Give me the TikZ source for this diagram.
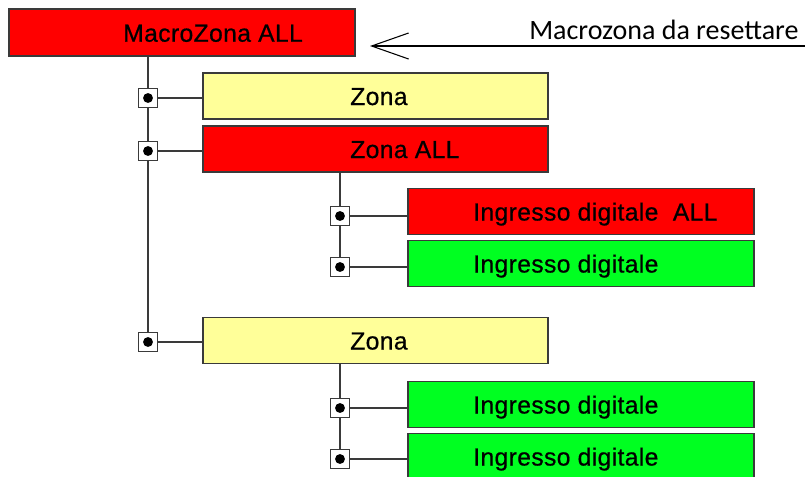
\documentclass[tikz,border=0pt]{standalone}
\usepackage{fontspec}
\setmainfont{Liberation Sans}[FakeBold=0.5]
\newfontfamily\boxfont{Liberation Sans}[FakeBold=0.6,LetterSpace=1.5]
\newfontfamily\calfont{Carlito}
\usetikzlibrary{arrows.meta}
\definecolor{boxred}{HTML}{FF0000}
\definecolor{boxyel}{HTML}{FFFF99}
\definecolor{boxgrn}{HTML}{00FF21}
\definecolor{edge}{HTML}{3A3A3A}
\tikzset{
  box/.style={draw=edge, line width=1.1pt, inner sep=0pt, minimum height=34.5pt},
  bigbox/.style={box, minimum width=259.5pt},
  zbox/.style={box, minimum width=258.75pt},
  ibox/.style={box, minimum width=259.5pt},
  lbl/.style={anchor=base west, inner sep=0pt, font=\boxfont\fontsize{18.5}{20}\selectfont},
  junc/.style={draw=edge, fill=white, line width=0.9pt, minimum size=14pt, inner sep=0pt,
    path picture={\fill[black] (path picture bounding box.center) circle (3.7pt);}},
  wire/.style={draw=edge, line width=1.1pt},
}
\begin{document}
\begin{tikzpicture}[x=0.75pt,y=-0.75pt]
\clip (0,0) rectangle (805,476);
\fill[white] (0,0) rectangle (805,476);

% boxes
\node[bigbox, fill=boxred, minimum height=35.25pt] (mz) at (182,32.5) {};
\node[zbox, fill=boxyel] (z1) at (375.5,96) {};
\node[zbox, fill=boxred] (z2) at (375.5,149) {};
\node[ibox, fill=boxred] (i1) at (581,211.5) {};
\node[ibox, fill=boxgrn] (i2) at (581,263.5) {};
\node[zbox, fill=boxyel] (z3) at (375.5,340.5) {};
\node[ibox, fill=boxgrn] (i3) at (581,404.5) {};
\node[ibox, fill=boxgrn] (i4) at (581,456.5) {};

% texts
\node[lbl] (tmz) at (123,41.7) {MacroZona ALL};
\node[lbl] (tz1) at (350,105) {Zona};
\node[lbl] (tz2) at (350,158) {Zona ALL};
\node[lbl] (ti1) at (473,220.5) {Ingresso digitale\ \ ALL};
\node[lbl] (ti2) at (473,272.5) {Ingresso digitale};
\node[lbl] (tz3) at (350,349.5) {Zona};
\node[lbl] (ti3) at (473,413.5) {Ingresso digitale};
\node[lbl] (ti4) at (473,465.5) {Ingresso digitale};

% junction positions
\coordinate (pj1) at (148,98);
\coordinate (pj2) at (148,151);
\coordinate (pj3) at (148,342);
\coordinate (pk1) at (340,216);
\coordinate (pk2) at (340,267);
\coordinate (pk3) at (340,408);
\coordinate (pk4) at (340,459);

% wires
\path[wire] (pj1 |- mz.south) -- (pj3);
\path[wire] (pk1 |- z2.south) -- (pk2);
\path[wire] (pk3 |- z3.south) -- (pk4);
\path[wire] (pj1) -- (pj1 -| z1.west);
\path[wire] (pj2) -- (pj2 -| z2.west);
\path[wire] (pj3) -- (pj3 -| z3.west);
\path[wire] (pk1) -- (pk1 -| i1.west);
\path[wire] (pk2) -- (pk2 -| i2.west);
\path[wire] (pk3) -- (pk3 -| i3.west);
\path[wire] (pk4) -- (pk4 -| i4.west);

% junction boxes
\node[junc] (j1) at (pj1) {};
\node[junc] (j2) at (pj2) {};
\node[junc] (j3) at (pj3) {};
\node[junc] (k1) at (pk1) {};
\node[junc] (k2) at (pk2) {};
\node[junc] (k3) at (pk3) {};
\node[junc] (k4) at (pk4) {};

% pointer
\node[anchor=base west, inner sep=0pt, font=\calfont\fontsize{21}{23}\selectfont] (note) at (529,39.3) {Macrozona da resettare};
\coordinate (ae) at (805,46);
\coordinate (at) at (370,46);
\draw[line width=0.9pt, black, -{Straight Barb[length=27.75pt,width=19.5pt,line width=0.8pt]}] (ae) -- (at);
\end{tikzpicture}
\end{document}
